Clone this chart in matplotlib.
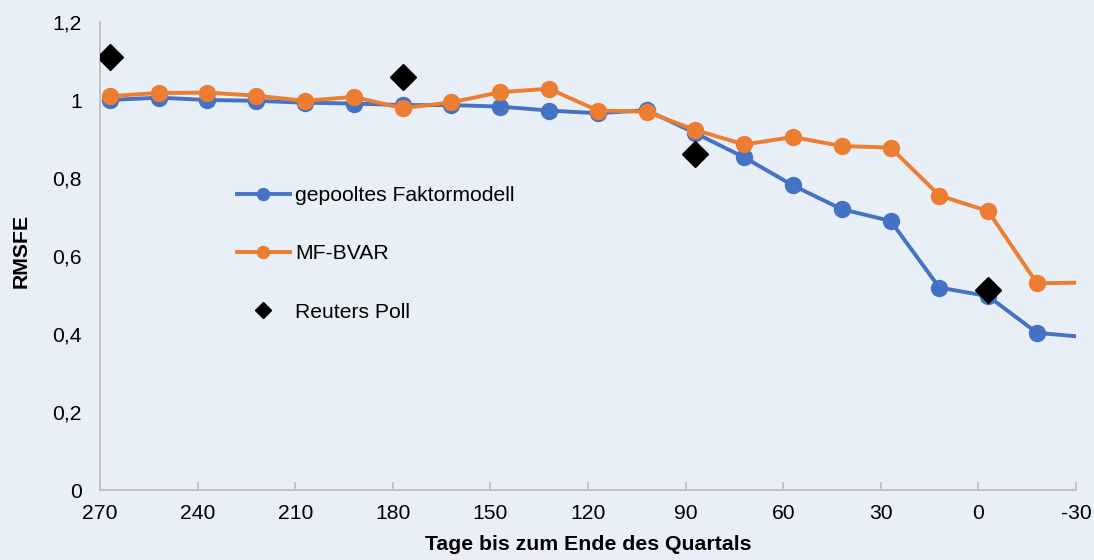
import matplotlib
matplotlib.use("Agg")
import matplotlib.pyplot as plt

plt.rcParams['font.family'] = ['Liberation Sans', 'DejaVu Sans']

days = [267, 252, 237, 222, 207, 192, 177, 162, 147, 132, 117, 102, 87, 72, 57, 42, 27, 12, -3, -18]
factor = [1.000, 1.006, 1.000, 0.998, 0.993, 0.991, 0.987, 0.987, 0.983, 0.973, 0.966, 0.974,
          0.915, 0.853, 0.781, 0.720, 0.690, 0.519, 0.497, 0.403]
bvar = [1.010, 1.018, 1.019, 1.011, 0.998, 1.008, 0.979, 0.994, 1.020, 1.029, 0.973, 0.970,
        0.923, 0.886, 0.905, 0.882, 0.878, 0.755, 0.715, 0.530]
# series continue past the right edge of the axis (last observation clipped)
tail_day = -33
factor_tail = 0.392
bvar_tail = 0.532

poll_days = [267, 177, 87, -3]
poll = [1.111, 1.058, 0.862, 0.513]

xticks = [270, 240, 210, 180, 150, 120, 90, 60, 30, 0, -30]
yticks = [0, 0.2, 0.4, 0.6, 0.8, 1.0, 1.2]
ytick_labels = ['0', '0,2', '0,4', '0,6', '0,8', '1', '1,2']

bg = '#E9EFF7'
blue = '#4472C4'
orange = '#ED7D31'

fig = plt.figure(figsize=(10.94, 5.60), dpi=100, facecolor=bg)
ax = fig.add_axes([100/1094, 70/560, 976/1094, 468/560], facecolor=bg)

# tail segments without markers
ax.plot([days[-1], tail_day], [factor[-1], factor_tail], color=blue, lw=2.8, solid_capstyle='butt', zorder=2)
ax.plot([days[-1], tail_day], [bvar[-1], bvar_tail], color=orange, lw=2.8, solid_capstyle='butt', zorder=3)

ax.plot(days, factor, color=blue, lw=2.8, marker='o', markersize=11.5,
        label='gepooltes Faktormodell', zorder=2)
ax.plot(days, bvar, color=orange, lw=2.8, marker='o', markersize=11.5,
        label='MF-BVAR', zorder=3)
ax.plot(poll_days, poll, linestyle='none', marker='D', markersize=13, color='black',
        label='Reuters Poll', zorder=4)

ax.set_xlim(270, -30)
ax.set_ylim(0, 1.2)
ax.set_xticks(xticks)
ax.set_xticklabels([str(t) for t in xticks])
ax.set_yticks(yticks)
ax.set_yticklabels(ytick_labels)

for s in ['top', 'right']:
    ax.spines[s].set_visible(False)
for s in ['left', 'bottom']:
    ax.spines[s].set_color('#BFBFBF')
    ax.spines[s].set_linewidth(1.3)

ax.tick_params(axis='x', direction='in', length=6, color='#BFBFBF', width=1.3,
               labelsize=15.2, pad=10)
ax.tick_params(axis='y', length=0, labelsize=15.2, pad=13)

ax.set_xlabel('Tage bis zum Ende des Quartals', fontsize=15.3, fontweight='bold')
ax.xaxis.set_label_coords(0.5, -0.096)
ax.set_ylabel('RMSFE', fontsize=15.3, fontweight='bold')
ax.yaxis.set_label_coords(-0.071, 0.51)

leg = ax.legend(loc='upper left', bbox_to_anchor=(218/1094, 393/560),
                bbox_transform=fig.transFigure, frameon=False, fontsize=15.2,
                handlelength=2.5, handletextpad=0.25, labelspacing=1.86, markerscale=0.75)
leg.legend_handles[2].set_markersize(8.5)

fig.savefig('out.png', dpi=100, facecolor=bg)
